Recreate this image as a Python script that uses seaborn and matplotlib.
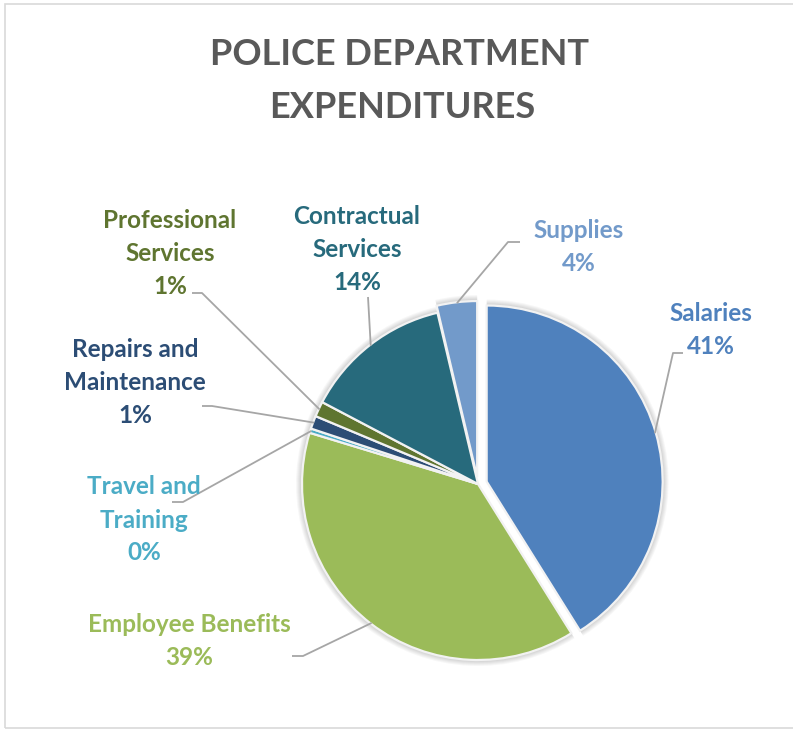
import matplotlib
matplotlib.use("Agg")
import matplotlib.pyplot as plt
from matplotlib.patches import Rectangle
import numpy as np
import seaborn as sns

# Expenditure categories and their share of the budget (%)
categories = [
    "Salaries",
    "Employee Benefits",
    "Travel and\nTraining",
    "Repairs and\nMaintenance",
    "Professional\nServices",
    "Contractual\nServices",
    "Supplies",
]
spending_share = [41.1, 38.6, 0.4, 1.2, 1.4, 13.6, 3.7]
slice_colors = ["#4F81BD", "#9BBB59", "#4BACC6", "#2C4D75",
                "#5F7530", "#276A7C", "#729ACA"]
title_lines = ["POLICE DEPARTMENT", "EXPENDITURES"]

# Layout (pixel coordinates, origin top-left)
W, H = 793, 729
PIE_CENTER = (478, 484)
PIE_RADIUS = 176
explode_px = [9, 0, 0, 0, 0, 0, 7]
label_centers = [(711, 330), (189, 641), (144, 520), (135, 382),
                 (170, 253), (357, 249), (579, 247)]
leader_ends = [((683, 353), (673, 353)), ((292, 656), (303, 656)),
               ((172, 502), (183, 502)), ((202, 406), (212, 406)),
               ((192, 293), (202, 293)), ((368, 297), (368, 297)),
               ((520, 242), (508, 242))]
LINE_STEP = 33

sns.set_theme(style="white")
plt.rcParams["font.family"] = ["Lato", "DejaVu Sans"]

fig = plt.figure(figsize=(W / 100, H / 100), dpi=100)
ax = fig.add_axes([0, 0, 1, 1])


def ypix(y):
    return H - y


center = (PIE_CENTER[0], ypix(PIE_CENTER[1]))

# soft halo under the slices (explode is an offset in data units here)
for k in range(1, 7):
    ax.pie(spending_share, radius=PIE_RADIUS + k, center=center,
           startangle=90, counterclock=False, explode=explode_px,
           colors=["#000000"] * len(spending_share),
           wedgeprops=dict(alpha=0.03, linewidth=0), frame=True)

wedges, _ = ax.pie(spending_share, radius=PIE_RADIUS, center=center,
                   startangle=90, counterclock=False, explode=explode_px,
                   colors=slice_colors,
                   wedgeprops=dict(edgecolor="#F2F2F2", linewidth=1.6),
                   frame=True)

total = sum(spending_share)
for w, name, value, col, (lx, ly), (end, elbow) in zip(
        wedges, categories, spending_share, slice_colors,
        label_centers, leader_ends):
    # leader line from the slice edge to the label
    mid = np.deg2rad((w.theta1 + w.theta2) / 2)
    cx, cy = w.center
    px = cx + (w.r - 1) * np.cos(mid)
    py = cy + (w.r - 1) * np.sin(mid)
    ax.plot([px, elbow[0], end[0]], [py, ypix(elbow[1]), ypix(end[1])],
            color="#A6A6A6", lw=1.3, solid_capstyle="butt", zorder=3)
    # label text: category name and rounded share
    pct = round(100 * value / total)
    lines = name.split("\n") + [f"{pct}%"]
    y0 = ly - (len(lines) - 1) / 2 * LINE_STEP
    for i, t in enumerate(lines):
        ax.text(lx, ypix(y0 + i * LINE_STEP), t, color=col, fontsize=17.5,
                fontweight="bold", ha="center", va="center", zorder=4)

ax.text(400, ypix(54), title_lines[0], color="#595959", fontsize=26,
        fontweight="bold", ha="center", va="center")
ax.text(402, ypix(107), title_lines[1], color="#595959", fontsize=26,
        fontweight="bold", ha="center", va="center")

# chart frame
ax.add_patch(Rectangle((5, ypix(728)), W + 20, 724, fill=False,
                       edgecolor="#D9D9D9", lw=1.2, zorder=0))

ax.set_xlim(0, W)
ax.set_ylim(0, H)
ax.set_aspect("equal")
ax.axis("off")

fig.savefig("out.png", dpi=100)
